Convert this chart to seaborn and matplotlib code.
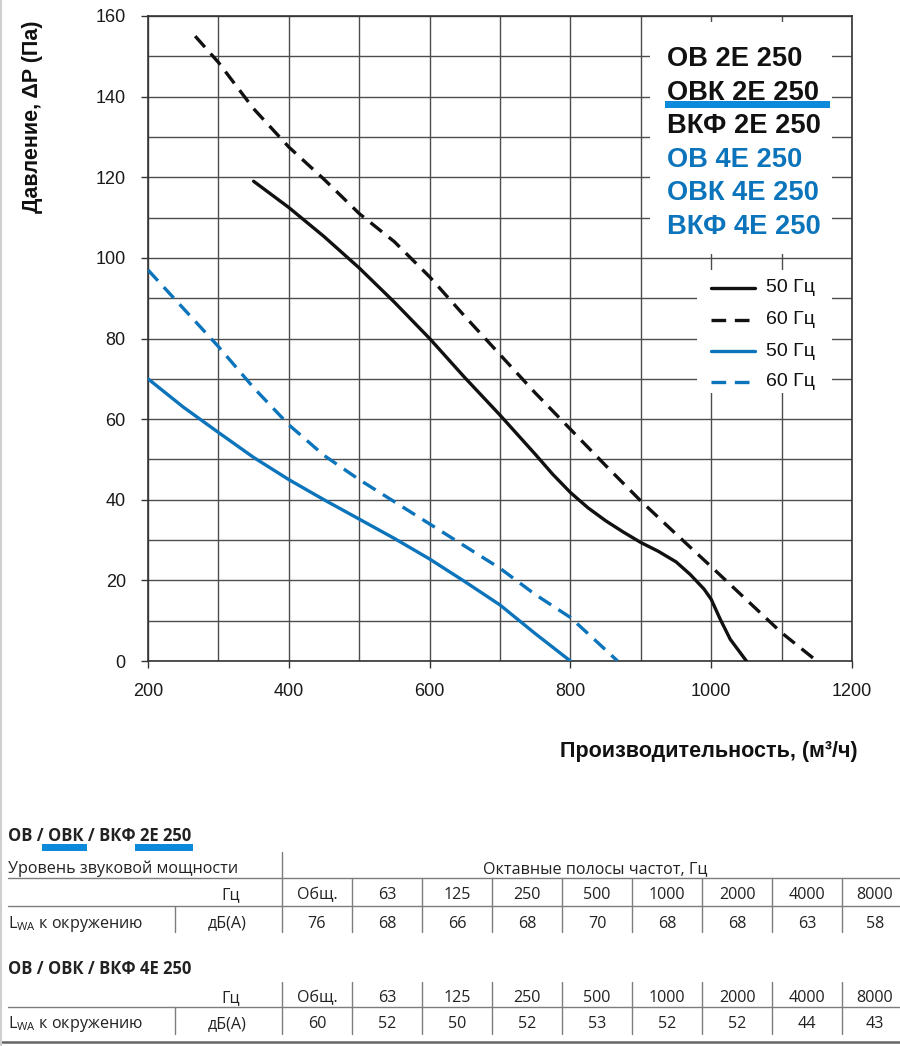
import matplotlib
matplotlib.use("Agg")
import matplotlib.pyplot as plt
import seaborn as sns
import pandas as pd
from matplotlib.lines import Line2D
from matplotlib.patches import Rectangle

# ---------------- data ----------------
flow_2e_50 = [350, 400, 450, 500, 550, 600, 650, 700, 750, 775, 800, 825, 850, 875, 900, 925, 950, 970, 990, 1000, 1013, 1027, 1050]
press_2e_50 = [119, 112.5, 105.3, 97.5, 89, 80, 70.3, 61, 51.3, 46.3, 41.8, 38.0, 34.8, 32.0, 29.4, 27.2, 24.6, 21.5, 17.8, 15.3, 10.3, 5.4, 0]

flow_2e_60 = [267, 300, 350, 400, 450, 500, 550, 600, 650, 700, 750, 800, 850, 900, 950, 1000, 1050, 1100, 1150]
press_2e_60 = [155, 148.5, 137, 127.5, 119.5, 111, 104, 95.3, 85.5, 76, 66.5, 57.5, 48.5, 39.7, 31.5, 23.4, 15.2, 7, 0]

flow_4e_50 = [200, 250, 300, 350, 400, 450, 500, 550, 600, 650, 700, 750, 800]
press_4e_50 = [70, 63, 56.7, 50.5, 45, 40, 35.2, 30.4, 25.3, 19.7, 13.9, 6.8, 0]

flow_4e_60 = [200, 250, 300, 350, 400, 450, 500, 550, 600, 650, 700, 750, 800, 833, 867]
press_4e_60 = [97, 87.5, 78, 67.8, 58.6, 51, 45, 39.5, 34, 28.5, 23, 16.5, 10.8, 5.5, 0]

x_ticks = [200, 400, 600, 800, 1000, 1200]
y_ticks = [0, 20, 40, 60, 80, 100, 120, 140, 160]

model_labels_2e = ["ОВ 2Е 250", "ОВК 2Е 250", "ВКФ 2Е 250"]
model_labels_4e = ["ОВ 4Е 250", "ОВК 4Е 250", "ВКФ 4Е 250"]
legend_labels = ["50 Гц", "60 Гц", "50 Гц", "60 Гц"]

band_labels = ["Общ.", "63", "125", "250", "500", "1000", "2000", "4000", "8000"]
lwa_2e = [76, 68, 66, 68, 70, 68, 68, 63, 58]
lwa_4e = [60, 52, 50, 52, 53, 52, 52, 44, 43]

# ---------------- layout helpers ----------------
W, H = 900, 1046
def fx(px):
    return px / W
def fy(py):
    return 1 - py / H

sns.set_theme(style="ticks")
plt.rcParams['font.family'] = ['Liberation Sans', 'DejaVu Sans']
plt.rcParams['mathtext.fontset'] = 'custom'
plt.rcParams['mathtext.rm'] = 'Open Sans'

BLACK = '#111111'
BLUE = '#0b74bb'
ULINE = '#0a8ad8'
DASH = (0, (4.4, 2.6))

fig = plt.figure(figsize=(W / 100, H / 100), dpi=100, facecolor='white')
ax = fig.add_axes([fx(148), fy(661), (852 - 148) / W, (661 - 16) / H])

series = [
    (flow_2e_50, press_2e_50, BLACK, '-'),
    (flow_2e_60, press_2e_60, BLACK, DASH),
    (flow_4e_50, press_4e_50, BLUE, '-'),
    (flow_4e_60, press_4e_60, BLUE, DASH),
]
for xs, ys, col, ls in series:
    df = pd.DataFrame({'flow': xs, 'pressure': ys})
    sns.lineplot(data=df, x='flow', y='pressure', ax=ax, color=col, lw=2.4,
                 sort=False, estimator=None, legend=False)
    ax.lines[-1].set_linestyle(ls)
    ax.lines[-1].set_zorder(3)
    ax.lines[-1].set_solid_joinstyle('round')

ax.set_xlim(200, 1200)
ax.set_ylim(0, 160)
ax.set_xticks(x_ticks)
ax.set_xticks([300, 500, 700, 900, 1100], minor=True)
ax.set_yticks(y_ticks)
ax.set_yticks([10, 30, 50, 70, 90, 110, 130, 150], minor=True)
ax.set_axisbelow(True)
ax.grid(which='both', color='#4d4d4d', lw=1.0)
ax.tick_params(which='major', direction='out', length=5, width=1.0, color='#333333',
               pad=11, labelsize=13, labelcolor='#1a1a1a', bottom=True, left=True)
ax.tick_params(which='minor', length=0)
ax.set_xlabel('')
ax.set_ylabel('')
for sp in ax.spines.values():
    sp.set_visible(True)
    sp.set_color('#333333')
    sp.set_linewidth(1.2)

# white areas behind the model names and the legend
ax.add_patch(Rectangle((913, 101), 1171.5 - 913, 158.5 - 101, facecolor='white',
                       edgecolor='none', zorder=1))
ax.add_patch(Rectangle((980, 66.5), 1171.5 - 980, 97 - 66.5, facecolor='white',
                       edgecolor='none', zorder=1))

# model names
for i, lab in enumerate(model_labels_2e + model_labels_4e):
    fig.text(fx(667), fy(66 + i * 33.6), lab, fontsize=19.6, weight='bold',
             color=BLACK if i < 3 else BLUE, ha='left', va='baseline')
fig.patches.append(Rectangle((fx(665), fy(108)), (830 - 665) / W, 7 / H,
                             transform=fig.transFigure, facecolor=ULINE,
                             edgecolor='none'))

# line legend
leg_y = [288, 320, 351, 382]
leg_style = [(BLACK, '-'), (BLACK, DASH), (BLUE, '-'), (BLUE, DASH)]
for yy, (col, ls), lab in zip(leg_y, leg_style, legend_labels):
    fig.add_artist(Line2D([fx(711), fx(755)], [fy(yy), fy(yy)], color=col, lw=2.4,
                          linestyle=ls))
    fig.text(fx(766), fy(yy), lab, fontsize=14, color=BLACK, ha='left', va='center')

# axis titles
fig.text(fx(33), fy(117), "Давление, ΔP (Па)", rotation=90, fontsize=15.5,
         weight='bold', color=BLACK, ha='center', va='center')
fig.text(fx(858), fy(757), "Производительность, (м³/ч)", fontsize=15.5,
         weight='bold', color=BLACK, ha='right', va='baseline')

# ---------------- table ----------------
TF = ['Open Sans', 'DejaVu Sans']
TC = '#222222'
LC = '#7d7d7d'
TS = 11.6

def hline(py, x0=8, x1=900, lw=1.0, c=LC):
    fig.add_artist(Line2D([fx(x0), fx(x1)], [fy(py), fy(py)], color=c, lw=lw))

def vline(px, y0, y1, lw=1.0, c=LC):
    fig.add_artist(Line2D([fx(px), fx(px)], [fy(y0), fy(y1)], color=c, lw=lw))

def ttext(px, py, s, ha='center', weight='normal', size=TS):
    fig.text(fx(px), fy(py), s, fontsize=size, family=TF, color=TC, ha=ha,
             va='baseline', weight=weight)

col_edges = [282, 352, 422, 492, 562, 632, 702, 772, 842]
col_centers = [317, 387, 457, 527, 597, 667, 737, 807, 875]

def uline(x0, x1, y0, y1):
    fig.patches.append(Rectangle((fx(x0), fy(y1)), (x1 - x0) / W, (y1 - y0) / H,
                                 transform=fig.transFigure, facecolor=ULINE,
                                 edgecolor='none'))

# table 1
ttext(8, 841, "ОВ / ОВК / ВКФ 2Е 250", ha='left', weight='bold', size=12)
uline(42, 87, 844, 851)
uline(135, 193, 844, 851)
ttext(8, 872.7, "Уровень звуковой мощности", ha='left')
ttext(595, 872.7, "Октавные полосы частот, Гц")
vline(282, 851.7, 931.7)
hline(878.3)
ttext(230.5, 899.3, "Гц")
for cx, lab in zip(col_centers, band_labels):
    ttext(cx, 899.3, lab)
for ex in col_edges[1:]:
    vline(ex, 878.3, 931.7)
hline(905.7)
vline(175, 905.7, 931.7)
ttext(8, 927.5, r"L$_{\mathrm{WA}}$ к окружению", ha='left')
ttext(227, 927.5, "дБ(А)")
for cx, v in zip(col_centers, lwa_2e):
    ttext(cx, 927.5, str(v))

# table 2
ttext(8, 974.3, "ОВ / ОВК / ВКФ 4Е 250", ha='left', weight='bold', size=12)
for ex in col_edges:
    vline(ex, 981.7, 1034)
ttext(230.5, 1001.7, "Гц")
for cx, lab in zip(col_centers, band_labels):
    ttext(cx, 1001.7, lab)
hline(1007.3)
vline(175, 1007.3, 1034)
ttext(8, 1028.3, r"L$_{\mathrm{WA}}$ к окружению", ha='left')
ttext(227, 1028.3, "дБ(А)")
for cx, v in zip(col_centers, lwa_4e):
    ttext(cx, 1028.3, str(v))
hline(1042.3, x0=0, lw=1.8, c='#666666')

# thin frame line on the left edge
fig.add_artist(Line2D([fx(1), fx(1)], [0, 1], color='#cfcfcf', lw=1.5))

fig.savefig("out.png", dpi=100, facecolor='white')
